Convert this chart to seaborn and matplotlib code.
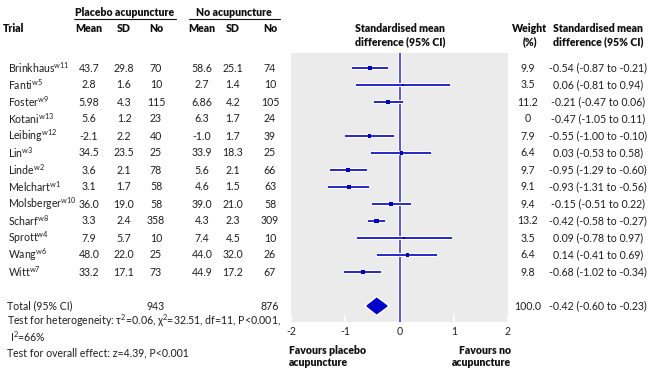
import matplotlib
matplotlib.use("Agg")
import matplotlib.pyplot as plt
import matplotlib.patheffects as pe
import pandas as pd
import seaborn as sns

# trial data
trials = ["Brinkhaus", "Fanti", "Foster", "Kotani", "Leibing", "Lin", "Linde",
          "Melchart", "Molsberger", "Scharf", "Sprott", "Wang", "Witt"]
refs = ["w11", "w5", "w9", "w13", "w12", "w3", "w2", "w1", "w10", "w8", "w4", "w6", "w7"]
pl_mean = [43.7, 2.8, 5.98, 5.6, -2.1, 34.5, 3.6, 3.1, 36.0, 3.3, 7.9, 48.0, 33.2]
pl_sd = [29.8, 1.6, 4.3, 1.2, 2.2, 23.5, 2.1, 1.7, 19.0, 2.4, 5.7, 22.0, 17.1]
pl_n = [70, 10, 115, 23, 40, 25, 78, 58, 58, 358, 10, 25, 73]
no_mean = [58.6, 2.7, 6.86, 6.3, -1.0, 33.9, 5.6, 4.6, 39.0, 4.3, 7.4, 44.0, 44.9]
no_sd = [25.1, 1.4, 4.2, 1.7, 1.7, 18.3, 2.1, 1.5, 21.0, 2.3, 4.5, 32.0, 17.2]
no_n = [74, 10, 105, 24, 39, 25, 66, 63, 58, 309, 10, 26, 67]
weight = [9.9, 3.5, 11.2, 0, 7.9, 6.4, 9.7, 9.1, 9.4, 13.2, 3.5, 6.4, 9.8]
smd = [-0.54, 0.06, -0.21, -0.47, -0.55, 0.03, -0.95, -0.93, -0.15, -0.42, 0.09, 0.14, -0.68]
ci_lo = [-0.87, -0.81, -0.47, -1.05, -1.00, -0.53, -1.29, -1.31, -0.51, -0.58, -0.78, -0.41, -1.02]
ci_hi = [-0.21, 0.94, 0.06, 0.11, -0.10, 0.58, -0.60, -0.56, 0.22, -0.27, 0.97, 0.69, -0.34]

total_pl_n = 943
total_no_n = 876
total_weight = 100.0
total_smd = -0.42
total_lo = -0.60
total_hi = -0.23

x_ticks = [-2, -1, 0, 1, 2]

sns.set_theme(style="white")
plt.rcParams["font.family"] = ["Lato", "DejaVu Sans"]
plt.rcParams["mathtext.fontset"] = "custom"
plt.rcParams["mathtext.rm"] = "Lato"
plt.rcParams["mathtext.it"] = "Lato:italic"

BLUE = "#2626c8"
FS = 7.6

df = pd.DataFrame({"trial": trials, "smd": smd, "lo": ci_lo, "hi": ci_hi, "weight": weight})
df["row"] = range(len(df))
total_row = len(df) + 1

fig = plt.figure(figsize=(6.5, 3.78), dpi=100)
fig.patch.set_facecolor("white")

# overlay axes in pixel coordinates for the table text
tab = fig.add_axes([0, 0, 1, 1])
tab.set_xlim(0, 650)
tab.set_ylim(378, 0)
tab.axis("off")

# forest axes: rows 17 px apart, first row at 68 px
px_top, px_bot, row0, step = 53, 322, 68, 17
ax = fig.add_axes([291 / 650, 1 - px_bot / 378, 217 / 650, (px_bot - px_top) / 378])
ax.set_facecolor("#ebebeb")
for s in ax.spines.values():
    s.set_visible(False)
ax.set_xlim(-2, 2)
ax.set_ylim((px_bot - row0) / step, (px_top - row0) / step)

halo = [pe.withStroke(linewidth=3.0, foreground="white")]
ax.axvline(0, color=BLUE, lw=1.1, zorder=2, path_effects=halo)

shown = df[df["weight"] > 0]
ax.hlines(shown["row"], shown["lo"], shown["hi"], color=BLUE, lw=1.4,
          zorder=3, path_effects=halo)
sns.scatterplot(data=shown, x="smd", y="row", size="weight", sizes=(2, 11),
                marker="s", color="#0000b4", edgecolor="none", legend=False,
                zorder=4, ax=ax)
ax.fill([total_lo, total_smd, total_hi, total_smd],
        [total_row, total_row - 0.45, total_row, total_row + 0.45],
        color="#0000c8", zorder=4, path_effects=halo)

ax.set_xticks(x_ticks)
ax.set_xticklabels([str(t) for t in x_ticks])
ax.set_yticks([])
ax.set_xlabel("")
ax.set_ylabel("")
ax.tick_params(axis="x", direction="in", color="white", length=5, width=1.2,
               labelsize=FS, labelcolor="#222222", pad=3, bottom=True)
ax.grid(False)

# headers
hb = dict(fontsize=FS, fontweight="heavy", color="#111111", va="center")
tab.text(125, 12, "Placebo acupuncture", ha="center", **hb)
tab.text(234, 12, "No acupuncture", ha="center", **hb)
tab.plot([74, 176], [19, 19], color="#111111", lw=0.8)
tab.plot([189, 280], [19, 19], color="#111111", lw=0.8)
tab.text(3, 29, "Trial", ha="left", **hb)
col_x = [89, 124, 156, 202, 233, 270]
for x, lab in zip(col_x, ["Mean", "SD", "No", "Mean", "SD", "No"]):
    tab.text(x, 29, lab, ha="center", **hb)
tab.text(400, 29, "Standardised mean", ha="center", **hb)
tab.text(400, 42, "difference (95% CI)", ha="center", **hb)
tab.text(530, 29, "Weight", ha="center", **hb)
tab.text(530, 42, "(%)", ha="center", **hb)
tab.text(598, 29, "Standardised mean", ha="center", **hb)
tab.text(598, 42, "difference (95% CI)", ha="center", **hb)

# rows
tx = dict(fontsize=FS, color="#1e1e1e", va="center")
for i in range(len(trials)):
    y = row0 + i * step
    tab.text(8, y, trials[i] + r"$^{\rm " + refs[i] + "}$", ha="left", **tx)
    vals = [pl_mean[i], pl_sd[i], pl_n[i], no_mean[i], no_sd[i], no_n[i]]
    for x, v in zip(col_x, vals):
        tab.text(x, y, str(v), ha="center", **tx)
    tab.text(528, y, str(weight[i]), ha="center", **tx)
    tab.text(598, y, f"{smd[i]:.2f} ({ci_lo[i]:.2f} to {ci_hi[i]:.2f})", ha="center", **tx)

yt = row0 + total_row * step
tab.text(7, yt, "Total (95% CI)", ha="left", **tx)
tab.text(col_x[2], yt, str(total_pl_n), ha="center", **tx)
tab.text(col_x[5], yt, str(total_no_n), ha="center", **tx)
tab.text(528, yt, f"{total_weight:.1f}", ha="center", **tx)
tab.text(598, yt, f"{total_smd:.2f} ({total_lo:.2f} to {total_hi:.2f})", ha="center", **tx)

tab.text(7, 321, r"Test for heterogeneity: τ$^2$=0.06, χ$^2$=32.51, df=11, P<0.001,", ha="left", **tx)
tab.text(10, 337, r"I$^2$=66%", ha="left", **tx)
tab.text(7, 353, "Test for overall effect: z=4.39, P<0.001", ha="left", **tx)

tab.text(289, 351, "Favours placebo", ha="left", **hb)
tab.text(289, 363, "acupuncture", ha="left", **hb)
tab.text(511, 351, "Favours no", ha="right", **hb)
tab.text(511, 363, "acupuncture", ha="right", **hb)

fig.savefig("out.png", dpi=100, facecolor="white")
